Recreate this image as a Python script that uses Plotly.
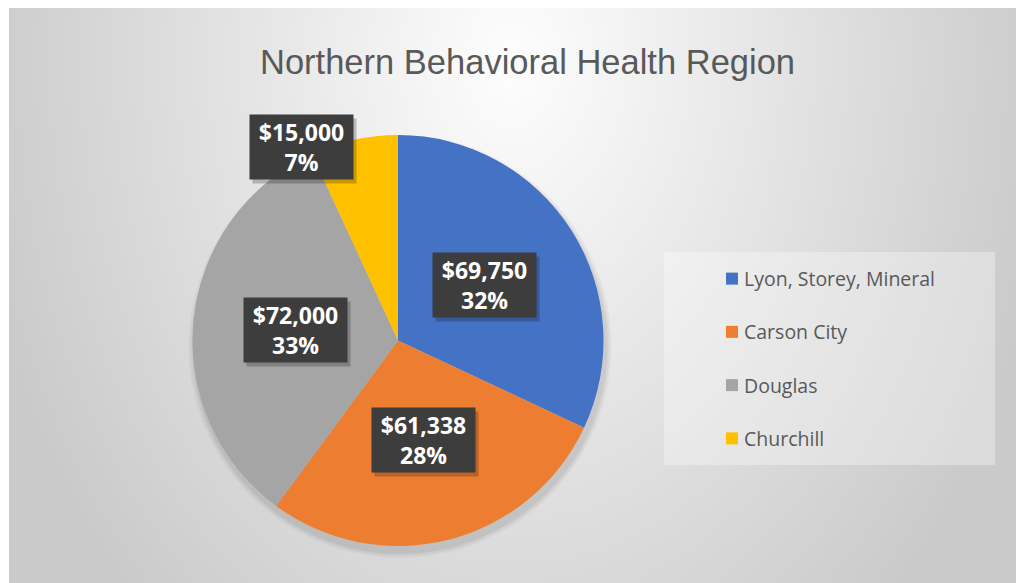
import base64
import math
import struct
import zlib

import numpy as np
import plotly.graph_objects as go

# ---------------- data ----------------
categories = ["Lyon, Storey, Mineral", "Carson City", "Douglas", "Churchill"]
amounts = [69750, 61338, 72000, 15000]
slice_colors = ["#4472C4", "#ED7D31", "#A5A5A5", "#FFC000"]
title_text = "Northern Behavioral Health Region"

# ---------------- geometry (screen pixels) ----------------
OX, OY = 8, 8                               # page offset of the plot div
W, H = 1024 - OX, 583 - OY                  # figure fits inside the window
CX, CY, R = 398.0, 340.5, 205.5             # pie centre / radius
BG_X0, BG_Y0 = 9, 8                         # chart area top-left


def px(x):
    return (x - OX) / W


def py(y):
    return 1 - (y - OY) / H


# ---------------- background gradient image ----------------
def gradient_png(w, h):
    xs = np.linspace(BG_X0, W + OX, w)
    ys = np.linspace(BG_Y0, H + OY, h)
    X, Y = np.meshgrid(xs, ys)
    d = np.sqrt(((X - 512) / 512.0) ** 2 + ((Y - 60) / 700.0) ** 2)
    v = np.clip(254 - 48 * d, 202, 255).astype(np.uint8)
    raw = b"".join(b"\x00" + v[r].tobytes() for r in range(h))

    def chunk(tag, data):
        c = struct.pack(">I", len(data)) + tag + data
        return c + struct.pack(">I", zlib.crc32(tag + data) & 0xFFFFFFFF)

    png = b"\x89PNG\r\n\x1a\n"
    png += chunk(b"IHDR", struct.pack(">IIBBBBB", w, h, 8, 0, 0, 0, 0))
    png += chunk(b"IDAT", zlib.compress(raw, 9))
    png += chunk(b"IEND", b"")
    return "data:image/png;base64," + base64.b64encode(png).decode()


bg_src = gradient_png(254, 145)

fig = go.Figure()

fig.add_trace(go.Pie(
    labels=categories,
    values=amounts,
    sort=False,
    direction="clockwise",
    rotation=0,
    marker=dict(colors=slice_colors, line=dict(width=0)),
    textinfo="none",
    hoverinfo="label+value+percent",
    showlegend=False,
    domain=dict(x=[px(CX - R), px(CX + R)], y=[py(CY + R), py(CY - R)]),
))

shapes = []
annotations = []

# soft shadow under the pie
for grow, alpha in [(6, 0.03), (4, 0.04), (2, 0.05)]:
    shapes.append(dict(type="circle", xref="paper", yref="paper", layer="below",
                       x0=px(CX - R - grow + 2), x1=px(CX + R + grow + 2),
                       y0=py(CY + R + grow + 6), y1=py(CY - R - grow + 6),
                       line=dict(width=0), fillcolor=f"rgba(0,0,0,{alpha})"))

# ---------------- data labels ----------------
total = sum(amounts)
cum = 0.0
LBL_W, LBL_H = 103, 64
for name, v in zip(categories, amounts):
    frac = v / total
    mid = (cum + frac / 2) * 2 * math.pi
    cum += frac
    txt = f"<b>${v:,.0f}<br>{round(frac * 100)}%</b>"
    if frac < 0.10:
        lx = CX + R * math.sin(mid)
        ly = CY - R * math.cos(mid) + 7
        xa = "right"
    else:
        lx = CX + 0.5 * R * math.sin(mid)
        ly = CY - 0.5 * R * math.cos(mid)
        xa = "center"
    # shadow
    annotations.append(dict(x=px(lx), y=py(ly), xref="paper", yref="paper",
                            xanchor=xa, yanchor="middle", showarrow=False,
                            text=" ", width=LBL_W, height=LBL_H, borderpad=0,
                            bgcolor="rgba(0,0,0,0.22)", xshift=3, yshift=-4))
    annotations.append(dict(x=px(lx), y=py(ly), xref="paper", yref="paper",
                            xanchor=xa, yanchor="middle", showarrow=False,
                            text=txt, width=LBL_W, height=LBL_H, borderpad=0,
                            bgcolor="#3d3d3d", align="center",
                            font=dict(family="Open Sans", size=23, color="white")))

# ---------------- legend (drawn) ----------------
LG_X0, LG_X1, LG_Y0, LG_Y1 = 664, 995, 252, 465
shapes.append(dict(type="rect", xref="paper", yref="paper", layer="below",
                   x0=px(LG_X0), x1=px(LG_X1), y0=py(LG_Y1), y1=py(LG_Y0),
                   line=dict(width=0), fillcolor="rgba(255,255,255,0.32)"))
row_h = (LG_Y1 - LG_Y0) / len(categories)
for i, (name, col) in enumerate(zip(categories, slice_colors)):
    ry = LG_Y0 + (i + 0.5) * row_h
    shapes.append(dict(type="rect", xref="paper", yref="paper",
                       x0=px(726), x1=px(738), y0=py(ry + 6), y1=py(ry - 6),
                       line=dict(width=0), fillcolor=col))
    annotations.append(dict(x=px(742), y=py(ry), xref="paper", yref="paper",
                            xanchor="left", yanchor="middle", showarrow=False,
                            text=name,
                            font=dict(family="Open Sans", size=19.5, color="#595959")))

# ---------------- title ----------------
annotations.append(dict(x=px(527.5), y=py(62), xref="paper", yref="paper",
                        xanchor="center", yanchor="middle", showarrow=False,
                        text=title_text,
                        font=dict(family="Liberation Sans", size=34.5, color="#595959")))

fig.update_layout(
    width=W, height=H,
    margin=dict(l=0, r=0, t=0, b=0),
    paper_bgcolor="white",
    plot_bgcolor="white",
    images=[dict(source=bg_src, xref="paper", yref="paper",
                 x=px(BG_X0), y=py(BG_Y0), sizex=1 - px(BG_X0), sizey=py(BG_Y0),
                 xanchor="left", yanchor="top", sizing="stretch", layer="below")],
    shapes=shapes,
    annotations=annotations,
    showlegend=False,
)

fig.write_html("out.html")
